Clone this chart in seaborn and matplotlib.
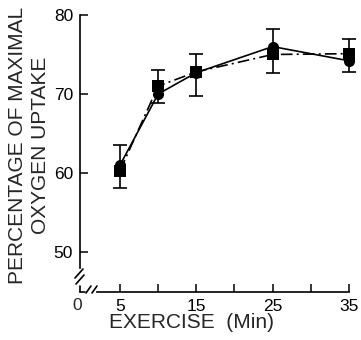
import matplotlib
matplotlib.use("Agg")
import matplotlib.pyplot as plt
import seaborn as sns
import pandas as pd
import numpy as np
from matplotlib.lines import Line2D

# ---- data ----
minutes = [5, 10, 15, 25, 35]
circle_vals = [61.0, 70.0, 72.7, 76.0, 74.2]
square_vals = [60.3, 71.0, 72.8, 75.0, 75.1]
err_low = [58.1, 68.9, 69.8, 72.7, 72.8]
err_high = [63.6, 73.0, 75.0, 78.2, 76.9]
xtick_vals = [5, 10, 15, 20, 25, 30, 35]
xtick_labels = ["5", "", "15", "", "25", "", "35"]
ytick_vals = [50, 60, 70, 80]
ytick_labels = ["50", "60", "70", "80"]

df = pd.DataFrame({
    "minutes": minutes * 2,
    "value": circle_vals + square_vals,
    "series": ["circle"] * len(minutes) + ["square"] * len(minutes),
})

sns.set_style("ticks")
plt.rcParams["font.family"] = ["Liberation Sans", "DejaVu Sans"]

W, H = 361, 340
fig = plt.figure(figsize=(W / 100, H / 100), dpi=100)
ax = fig.add_axes([80 / W, 48 / H, (355 - 80) / W, 282 / H])

sns.lineplot(data=df, x="minutes", y="value", style="series", hue="series",
             palette={"circle": "black", "square": "black"},
             markers={"circle": "o", "square": "s"},
             dashes={"circle": "", "square": (7, 2.5, 1.2, 2.5)},
             markersize=8, markeredgewidth=0, linewidth=1.2,
             legend=False, ax=ax, zorder=3)

mid = np.array(err_low) / 2 + np.array(err_high) / 2
ax.errorbar(minutes, mid, yerr=[mid - np.array(err_low), np.array(err_high) - mid],
            fmt="none", ecolor="black", elinewidth=1.2, capsize=5, capthick=1.2, zorder=2)

ax.set_xlim(-0.24, 35.79)
ax.set_ylim(44.94, 80.63)
ax.set_xticks(xtick_vals)
ax.set_xticklabels(xtick_labels)
ax.set_yticks(ytick_vals)
ax.set_yticklabels(ytick_labels)
ax.tick_params(direction="in", length=6, width=1.1, labelsize=12.5, pad=5, colors="black")

for s in ["top", "right"]:
    ax.spines[s].set_visible(False)
ax.spines["left"].set_bounds(47.97, 80)
ax.spines["bottom"].set_bounds(1.99, 35)
for s in ["left", "bottom"]:
    ax.spines[s].set_linewidth(1.2)
    ax.spines[s].set_color("black")

# "0" label at the broken origin
ax.text(-0.63, -0.02, "0", transform=ax.get_xaxis_transform(), ha="center", va="top",
        fontsize=12.5)

# break marks (figure pixel coordinates)
def px(x, y):
    return x / W, 1 - y / H

segs = [((75, 278), (83, 269)), ((76, 284), (84, 275)),
        ((80, 292), (85, 292)), ((80, 286), (80, 292)),
        ((86, 293), (91, 286)), ((92, 293), (97, 286))]
for a, b in segs:
    (x0, y0), (x1, y1) = px(*a), px(*b)
    fig.add_artist(Line2D([x0, x1], [y0, y1], transform=fig.transFigure,
                          color="black", linewidth=1.2))

ax.set_ylabel("PERCENTAGE OF MAXIMAL\nOXYGEN UPTAKE", fontsize=15, linespacing=1.25)
ax.yaxis.set_label_coords(-0.11, 0.521)
ax.set_xlabel("EXERCISE  (Min)", fontsize=15)
ax.xaxis.set_label_coords(0.407, -0.075)

fig.savefig("out.png", dpi=100)
